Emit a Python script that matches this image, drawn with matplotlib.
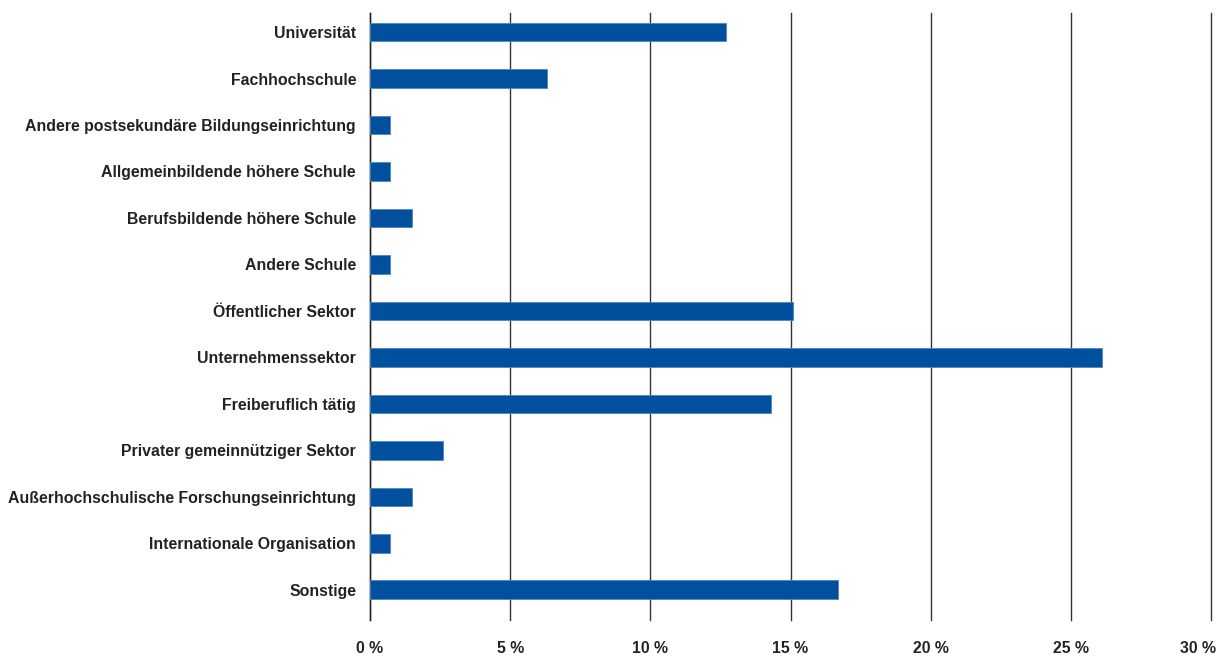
import numpy as np
import matplotlib.pyplot as plt
import matplotlib.transforms as mtransforms

categories = ["Universität", "Fachhochschule", "Andere postsekundäre Bildungseinrichtung",
              "Allgemeinbildende höhere Schule", "Berufsbildende höhere Schule", "Andere Schule",
              "Öffentlicher Sektor", "Unternehmenssektor", "Freiberuflich tätig",
              "Privater gemeinnütziger Sektor", "Außerhochschulische Forschungseinrichtung",
              "Internationale Organisation", "Sonstige"]
values = [12.7, 6.3, 0.7, 0.7, 1.5, 0.7, 15.1, 26.1, 14.3, 2.6, 1.5, 0.7, 16.7]
xticks = [0, 5, 10, 15, 20, 25, 30]
xticklabels = ["0 %", "5 %", "10 %", "15 %", "20 %", "25 %", "30 %"]

plt.rcParams['font.family'] = ['Liberation Sans', 'DejaVu Sans']

fig = plt.figure(figsize=(12.26, 6.57), dpi=100)
ax = fig.add_axes([370/1226, 1-620/657, 841/1226, 607/657])

y = np.arange(len(categories))
ax.barh(y, values, height=0.4, color="#00509e", edgecolor="#4a86c5", linewidth=0.6, zorder=3)

ax.set_xlim(0, 30)
ax.set_ylim(12.65, -0.41)
ax.set_xticks(xticks)
ax.set_xticklabels(xticklabels)
ax.set_yticks(y)
ax.set_yticklabels(categories)
for lab in ax.get_xticklabels() + ax.get_yticklabels():
    lab.set_fontweight("bold")
    lab.set_fontsize(11.4)
    lab.set_color("#222222")
ax.tick_params(axis="both", length=0)
ax.tick_params(axis="x", pad=15)
ax.tick_params(axis="y", pad=10)

# last tick label pulled left so it stays inside the figure
last = ax.get_xticklabels()[-1]
last.set_transform(last.get_transform() + mtransforms.ScaledTranslation(-13/100, 0, fig.dpi_scale_trans))

for s in ["top", "right", "bottom"]:
    ax.spines[s].set_visible(False)
ax.spines["left"].set_color("#222222")
ax.spines["left"].set_linewidth(1.0)
ax.grid(axis="x", color="#333333", linewidth=1.0, zorder=0)
for gl in ax.get_xgridlines():
    gl.set_clip_on(False)
ax.set_axisbelow(True)

fig.savefig("out.png", dpi=100)
